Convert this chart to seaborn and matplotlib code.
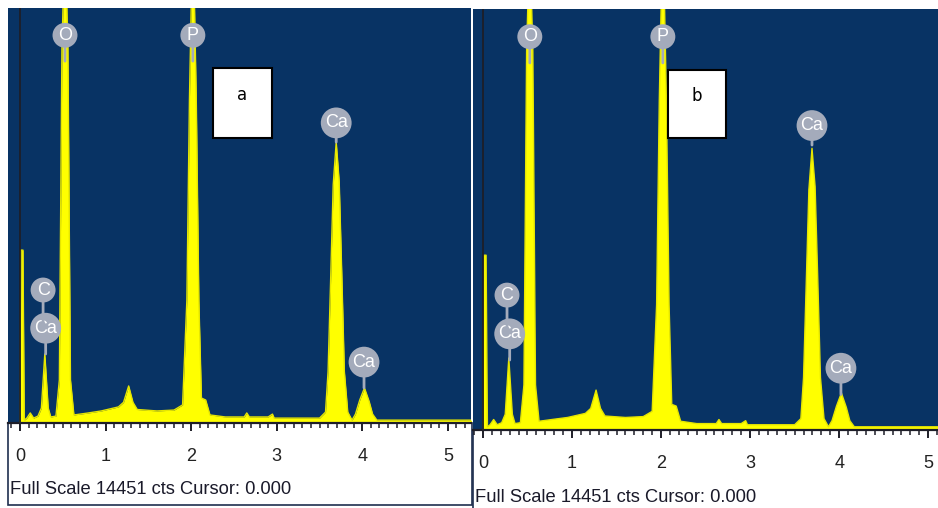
import matplotlib
matplotlib.use("Agg")
import matplotlib.pyplot as plt
import seaborn as sns
import numpy as np
from matplotlib.patches import Rectangle
from matplotlib.ticker import MultipleLocator

# ── Data (energy in keV, counts) ──────────────────────────────────────────────
full_scale = 14451

energy_kev = [0.0, 0.01, 0.035, 0.05, 0.08, 0.12, 0.16, 0.21, 0.25, 0.29, 0.33,
              0.36, 0.42, 0.46, 0.49, 0.525, 0.56, 0.59, 0.63, 0.80, 0.95, 1.05,
              1.15, 1.21, 1.27, 1.32, 1.37, 1.60, 1.80, 1.90, 1.95, 1.98, 2.02,
              2.06, 2.09, 2.12, 2.17, 2.22, 2.40, 2.62, 2.65, 2.68, 2.90, 2.95,
              2.97, 3.50, 3.57, 3.60, 3.63, 3.66, 3.695, 3.73, 3.76, 3.79, 3.83,
              3.88, 3.92, 3.97, 4.025, 4.08, 4.12, 4.17, 5.30]

counts_a = [0, 6020, 6020, 100, 170, 350, 170, 240, 520, 2400, 520,
            210, 240, 1500, 13000, 17000, 13000, 1500, 280, 350, 420, 490,
            560, 720, 1290, 720, 470, 420, 450, 630, 4280, 11250, 17500,
            11250, 4280, 870, 800, 280, 210, 210, 350, 210, 210, 310,
            170, 170, 380, 1800, 5000, 8300, 9780, 8400, 5200, 1800, 380,
            100, 310, 800, 1220, 750, 310, 100, 100]

counts_b = [0, 6000, 6000, 110, 180, 360, 180, 250, 540, 2470, 540,
            220, 250, 1550, 13000, 17000, 13000, 1550, 300, 370, 430, 500,
            570, 740, 1370, 740, 480, 430, 460, 640, 4300, 11300, 17500,
            11300, 4300, 880, 820, 300, 220, 220, 360, 220, 220, 320,
            180, 180, 390, 1800, 5000, 8250, 9670, 8350, 5150, 1800, 390,
            110, 320, 820, 1270, 780, 320, 110, 110]

# element markers: label, energy of peak, top of stem (counts), badge centre (counts)
marker_labels = ["O", "P", "Ca", "Ca", "C", "Ca"]
marker_energy = [0.526, 2.02, 3.695, 0.30, 0.27, 4.02]
marker_peak = [12600, 12600, 9780, 2400, 3300, 1220]
marker_badge = [13500, 13500, 10450, 3300, 4630, 2120]

tick_values = [0, 1, 2, 3, 4, 5]
panel_names = ["a", "b"]
caption = "Full Scale 14451 cts Cursor: 0.000"

# ── Style ─────────────────────────────────────────────────────────────────────
sns.set_theme(style="white")
plt.rcParams['font.family'] = ['Liberation Sans', 'DejaVu Sans']

bg_blue = '#083364'
yellow = '#ffff00'
badge_grey = '#a4abbb'
dark = '#1e1e28'

W, H = 938, 508
fig = plt.figure(figsize=(W / 100, H / 100), dpi=100)
fig.patch.set_facecolor('white')


def px_rect(x0, y0, x1, y1):
    # figure-pixel box (top-left origin) -> fig fraction [l, b, w, h]
    return [x0 / W, 1 - y1 / H, (x1 - x0) / W, (y1 - y0) / H]


panels = [
    dict(rect=px_rect(8, 8, 471, 423), xlim=(-0.14, 5.27), counts=counts_a,
         box=(0.443, 0.687, 0.127, 0.168), frame=(8, 423, 472, 505),
         text_xy=(10, 494)),
    dict(rect=px_rect(473, 9, 938, 430), xlim=(-0.112, 5.11), counts=counts_b,
         box=(0.419, 0.694, 0.125, 0.161), frame=(473, 430, 945, 515),
         text_xy=(475, 502)),
]

for name, p in zip(panel_names, panels):
    # white frame under the axis holding the ticks and caption
    fx0, fy0, fx1, fy1 = p['frame']
    fig.add_artist(Rectangle((fx0 / W, 1 - fy1 / H), (fx1 - fx0) / W, (fy1 - fy0) / H,
                             transform=fig.transFigure, facecolor='white',
                             edgecolor='#1f2f4f', lw=1.2, zorder=0))

    ax = fig.add_axes(p['rect'])
    ax.set_facecolor(bg_blue)
    df = {'energy': energy_kev, 'counts': p['counts']}
    sns.lineplot(x='energy', y='counts', data=df, ax=ax, color='#e6e600',
                 lw=1.0, zorder=3)
    ax.fill_between(energy_kev, p['counts'], 0, color=yellow, lw=0, zorder=2)
    ax.axvline(0, color=dark, lw=1.3, zorder=4)

    ax.set_xlim(*p['xlim'])
    ax.set_ylim(0, full_scale)
    ax.set_xlabel("")
    ax.set_ylabel("")
    ax.set_yticks([])
    ax.set_xticks(tick_values)
    ax.xaxis.set_minor_locator(MultipleLocator(0.1))
    ax.tick_params(axis='x', which='major', bottom=True, direction='out', length=6,
                   width=1.4, color=dark, pad=12, labelsize=13, labelcolor='#222222')
    ax.tick_params(axis='x', which='minor', bottom=True, direction='out', length=3.5,
                   width=1.1, color=dark)
    for side in ['top', 'left', 'right']:
        ax.spines[side].set_visible(False)
    ax.spines['bottom'].set_color(dark)
    ax.spines['bottom'].set_linewidth(1.6)

    # element badges
    for lab, e, top, badge in zip(marker_labels, marker_energy, marker_peak, marker_badge):
        ax.annotate(lab, xy=(e, top), xytext=(e, badge), ha='center', va='center',
                    fontsize=13, color='white', zorder=6,
                    bbox=dict(boxstyle='circle,pad=0.22', fc=badge_grey, ec='none'),
                    arrowprops=dict(arrowstyle='-', color=badge_grey, lw=2,
                                    shrinkA=0, shrinkB=0))

    # panel tag box
    bx, by, bw, bh = p['box']
    ax.add_patch(Rectangle((bx, by), bw, bh, transform=ax.transAxes,
                           facecolor='white', edgecolor='black', lw=1.5, zorder=7))
    ax.text(bx + bw / 2, by + bh * 0.62, name, transform=ax.transAxes,
            ha='center', va='center', fontsize=12, color='black',
            family='DejaVu Sans', zorder=8)

    tx, ty = p['text_xy']
    fig.text(tx / W, 1 - ty / H, caption, ha='left', va='baseline',
             fontsize=13.2, color='#1a1a2a')

plt.savefig('out.png', dpi=100)
plt.close()
